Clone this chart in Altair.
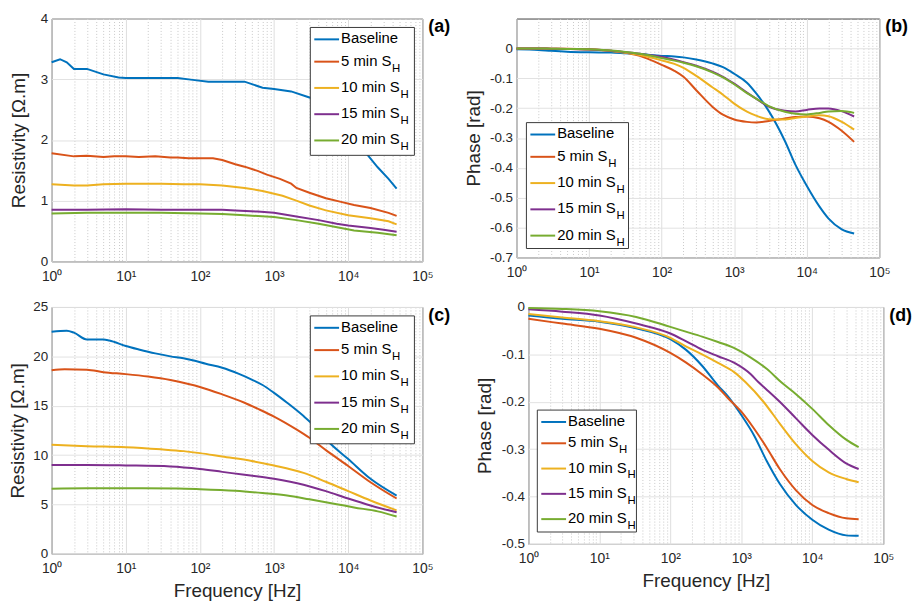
import altair as alt
import pandas as pd

SERIES = ["Baseline", "5 min S", "10 min S", "15 min S", "20 min S"]
SUBSCRIPT = ["", "H", "H", "H", "H"]
COLORS = ["#0072BD", "#D95319", "#EDB120", "#7E2F8E", "#77AC30"]

# ---------- panel (a): resistivity, (frequency Hz, value) pairs ----------
A_BASELINE = [(1, 3.28), (1.3, 3.33), (1.6, 3.28), (2, 3.17), (3, 3.17), (5, 3.08), (8, 3.03),
              (10, 3.02), (20, 3.02), (50, 3.02), (80, 2.99), (130, 2.96), (250, 2.96), (400, 2.96),
              (700, 2.86), (1000, 2.84), (1700, 2.80), (3000, 2.70), (4500, 2.58), (7000, 2.38),
              (10000, 2.15), (17000, 1.80), (25000, 1.55), (35000, 1.36), (45000, 1.20)]
A_5MIN = [(1, 1.78), (2, 1.73), (3, 1.74), (5, 1.72), (7, 1.73), (10, 1.73), (15, 1.72), (25, 1.73),
          (40, 1.71), (50, 1.71), (70, 1.70), (150, 1.70), (200, 1.67), (300, 1.60), (400, 1.56),
          (600, 1.49), (800, 1.43), (1200, 1.36), (1700, 1.28), (2000, 1.21), (3000, 1.13),
          (5000, 1.04), (8000, 0.98), (12000, 0.93), (20000, 0.88), (35000, 0.80), (45000, 0.75)]
A_10MIN = [(1, 1.27), (2, 1.25), (3, 1.25), (5, 1.27), (10, 1.28), (30, 1.28), (60, 1.27), (100, 1.27),
           (200, 1.25), (400, 1.21), (700, 1.16), (1300, 1.08), (2000, 1.00), (3000, 0.92),
           (5000, 0.84), (10000, 0.76), (20000, 0.71), (35000, 0.66), (45000, 0.61)]
A_15MIN = [(1, 0.85), (3, 0.85), (10, 0.86), (30, 0.85), (100, 0.85), (200, 0.85), (300, 0.84),
           (600, 0.82), (1000, 0.80), (2000, 0.74), (4000, 0.68), (7000, 0.62), (10000, 0.59),
           (20000, 0.55), (30000, 0.52), (45000, 0.49)]
A_20MIN = [(1, 0.79), (3, 0.80), (10, 0.80), (30, 0.80), (100, 0.79), (200, 0.78), (400, 0.76),
           (1000, 0.73), (2000, 0.68), (4000, 0.62), (8000, 0.55), (12000, 0.51), (25000, 0.47),
           (45000, 0.43)]

# ---------- panel (b): phase ----------
B_FREQ = [1, 2, 3, 5, 10, 20, 30, 50, 100, 150, 200, 300, 500, 700, 1000, 1500, 2000, 3000,
          5000, 7000, 10000, 15000, 20000, 30000, 45000]
B_BASELINE = [-0.003, -0.005, -0.008, -0.011, -0.013, -0.014, -0.016, -0.019, -0.025, -0.027,
              -0.030, -0.037, -0.050, -0.063, -0.085, -0.115, -0.150, -0.210, -0.310, -0.390,
              -0.460, -0.530, -0.570, -0.605, -0.620]
B_5MIN = [0.0, 0.0, -0.001, -0.001, -0.003, -0.008, -0.013, -0.025, -0.055, -0.075, -0.095,
          -0.140, -0.195, -0.222, -0.238, -0.246, -0.248, -0.243, -0.235, -0.230, -0.228,
          -0.234, -0.246, -0.275, -0.313]
B_10MIN = [0.0, 0.0, -0.001, -0.002, -0.004, -0.009, -0.014, -0.022, -0.040, -0.052, -0.065,
           -0.092, -0.130, -0.155, -0.185, -0.212, -0.225, -0.237, -0.238, -0.233, -0.228,
           -0.224, -0.227, -0.245, -0.272]
B_15MIN = [0.0, 0.0, -0.001, -0.002, -0.004, -0.008, -0.012, -0.018, -0.028, -0.038, -0.046,
           -0.058, -0.078, -0.095, -0.118, -0.148, -0.168, -0.195, -0.209, -0.211, -0.206,
           -0.201, -0.201, -0.210, -0.228]
B_20MIN = [0.0, 0.0, -0.001, -0.002, -0.003, -0.007, -0.011, -0.018, -0.032, -0.041, -0.048,
           -0.060, -0.080, -0.097, -0.120, -0.150, -0.168, -0.193, -0.212, -0.219, -0.221,
           -0.216, -0.211, -0.210, -0.216]

# ---------- panel (c): resistivity, (frequency Hz, value) pairs ----------
C_BASELINE = [(1, 22.5), (1.6, 22.6), (2, 22.4), (3, 21.7), (5, 21.7), (6, 21.6), (10, 21.05),
              (15, 20.7), (25, 20.3), (40, 20.0), (60, 19.8), (80, 19.6), (120, 19.25), (200, 18.85),
              (330, 18.25), (500, 17.65), (700, 17.1), (1000, 16.3), (1500, 15.3), (2500, 13.95),
              (3500, 12.95), (5500, 11.3), (10000, 9.6), (20000, 7.6), (45000, 5.9)]
C_5MIN = [(1, 18.6), (1.5, 18.7), (3, 18.65), (5, 18.4), (10, 18.2), (20, 17.95), (40, 17.6),
          (70, 17.2), (100, 16.9), (200, 16.15), (400, 15.3), (600, 14.7), (1000, 13.9),
          (2000, 12.6), (3000, 11.75), (5000, 10.5), (10000, 8.9), (20000, 7.25), (45000, 5.6)]
C_10MIN = [(1, 11.05), (3, 10.9), (10, 10.8), (30, 10.58), (60, 10.4), (100, 10.2), (200, 9.85),
           (500, 9.4), (1000, 8.95), (2500, 8.2), (5000, 7.3), (10000, 6.35), (20000, 5.4),
           (45000, 4.4)]
C_15MIN = [(1, 9.0), (3, 9.0), (10, 8.95), (40, 8.85), (100, 8.6), (200, 8.3), (400, 8.0),
           (1000, 7.6), (2500, 7.0), (5000, 6.35), (10000, 5.6), (20000, 4.9), (45000, 4.2)]
C_20MIN = [(1, 6.6), (3, 6.65), (10, 6.65), (50, 6.62), (100, 6.55), (300, 6.38), (700, 6.15),
           (1500, 5.9), (3000, 5.52), (7000, 5.03), (12000, 4.7), (25000, 4.3), (45000, 3.78)]

# ---------- panel (d): phase, (frequency Hz, value) pairs ----------
D_BASELINE = [(1, -0.018), (3, -0.025), (10, -0.031), (33, -0.045), (100, -0.068), (165, -0.090),
              (280, -0.124), (470, -0.166), (644, -0.188), (1000, -0.228), (1500, -0.270),
              (2280, -0.325), (3480, -0.373), (5900, -0.418), (10000, -0.449), (17000, -0.470),
              (30000, -0.482), (45000, -0.483)]
D_5MIN = [(1, -0.025), (3, -0.035), (10, -0.046), (33, -0.065), (100, -0.097), (165, -0.117),
          (280, -0.142), (470, -0.170), (644, -0.192), (1000, -0.221), (1500, -0.256),
          (2280, -0.297), (3480, -0.342), (5900, -0.387), (10000, -0.418), (17000, -0.435),
          (30000, -0.446), (45000, -0.448)]
D_10MIN = [(1, -0.015), (3, -0.022), (10, -0.030), (33, -0.043), (100, -0.065), (165, -0.083),
           (280, -0.100), (470, -0.118), (800, -0.138), (1150, -0.159), (2050, -0.200),
           (3480, -0.246), (5900, -0.290), (10000, -0.325), (17000, -0.349), (30000, -0.363),
           (45000, -0.370)]
D_15MIN = [(1, -0.005), (3, -0.010), (10, -0.018), (33, -0.035), (100, -0.056), (165, -0.072),
           (280, -0.090), (470, -0.104), (800, -0.118), (1360, -0.142), (1750, -0.159),
           (2300, -0.175), (3480, -0.200), (5900, -0.235), (10000, -0.270), (17000, -0.301),
           (30000, -0.330), (45000, -0.342)]
D_20MIN = [(1, -0.002), (3, -0.004), (10, -0.009), (33, -0.021), (100, -0.042), (165, -0.052),
           (280, -0.0625), (470, -0.074), (800, -0.087), (1360, -0.107), (2300, -0.131),
           (3660, -0.159), (5900, -0.184), (10000, -0.215), (17000, -0.249), (30000, -0.280),
           (45000, -0.296)]

X_TICKS = [m * 10 ** k for k in range(5) for m in range(1, 10)] + [100000]
DECADES = [1, 10, 100, 1000, 10000, 100000]
SUPERSCRIPTS = ["10\u2070", "10\u00b9", "10\u00b2", "10\u00b3", "10\u2074", "10\u2075"]

FONT = "Liberation Sans"
CSCALE = alt.Scale(domain=SERIES, range=COLORS)


def from_pairs(series_lists):
    rows = []
    for name, pairs in zip(SERIES, series_lists):
        for f, v in pairs:
            rows.append({"series": name, "f": f, "v": v})
    return pd.DataFrame(rows)


def from_grid(freq, series_lists):
    rows = []
    for name, vals in zip(SERIES, series_lists):
        for f, v in zip(freq, vals):
            rows.append({"series": name, "f": f, "v": v})
    return pd.DataFrame(rows)


DF_A = from_pairs([A_BASELINE, A_5MIN, A_10MIN, A_15MIN, A_20MIN])
DF_B = from_grid(B_FREQ, [B_BASELINE, B_5MIN, B_10MIN, B_15MIN, B_20MIN])
DF_C = from_pairs([C_BASELINE, C_5MIN, C_10MIN, C_15MIN, C_20MIN])
DF_D = from_pairs([D_BASELINE, D_5MIN, D_10MIN, D_15MIN, D_20MIN])

decade_test = "indexof([" + ",".join(str(d) for d in DECADES) + "], datum.value) >= 0"
x_label_expr = " : ".join(
    f"datum.value == {d} ? '{s}'" for d, s in zip(DECADES, SUPERSCRIPTS)) + " : ''"

X_LABEL_SIZE = 14
Y_LABEL_SIZE = 13.5
TITLE_SIZE = 19


def x_axis(title):
    kw = dict(values=X_TICKS, labelExpr=x_label_expr, grid=True,
              gridColor={"condition": {"test": decade_test, "value": "#dedede"}, "value": "#c8c8c8"},
              gridDash={"condition": {"test": decade_test, "value": []}, "value": [1, 2]},
              gridWidth=1, labelOverlap=False, labelFlush=False, labelPadding=8,
              labelFontSize=X_LABEL_SIZE, labelFont=FONT, labelColor="#262626",
              domain=False, ticks=False)
    if title:
        kw.update(title=title, titlePadding=6, titleFont=FONT, titleFontSize=TITLE_SIZE,
                  titleFontWeight="normal", titleColor="#262626")
    else:
        kw.update(title=None)
    return alt.Axis(**kw)


MINUS_EXPR = "datum.value == 0 ? '0' : (datum.value < 0 ? '-' + format(-datum.value, '.1f') : format(datum.value, '.1f'))"


def y_axis(title, values, expr, tpad):
    kw = dict(title=title, values=values, grid=True, gridColor="#e2e2e2", gridWidth=1,
              titlePadding=tpad, labelPadding=4, labelFontSize=Y_LABEL_SIZE, labelFont=FONT,
              labelColor="#262626", titleFont=FONT, titleFontSize=TITLE_SIZE,
              titleFontWeight="normal", titleColor="#262626", domain=False, ticks=False)
    if expr:
        kw["labelExpr"] = expr
    return alt.Axis(**kw)


LEG = pd.DataFrame({"series": SERIES, "sub": SUBSCRIPT, "i": list(range(5))})
ONE = pd.DataFrame({"k": [0]})


def legend_layers(bx, by, bw, bh, step):
    ly = f"{by} + (datum.i == 0 ? 12 : 8 + {step} * datum.i)"
    box = alt.Chart(ONE).mark_rect(fill="white", stroke="#3a3a3a", strokeWidth=1).encode(
        x=alt.value(bx), x2=alt.value(bx + bw), y=alt.value(by), y2=alt.value(by + bh))
    src = alt.Chart(LEG).transform_calculate(ly=ly)
    rules = src.mark_rule(strokeWidth=2).encode(
        x=alt.value(bx + 4), x2=alt.value(bx + 29),
        y=alt.Y("ly:Q", scale=None, axis=None),
        color=alt.Color("series:N", scale=CSCALE, legend=None))
    texts = src.mark_text(align="left", baseline="middle", font=FONT, fontSize=15,
                          color="#000000", dy=-1).encode(
        x=alt.value(bx + 31), y=alt.Y("ly:Q", scale=None, axis=None), text="series:N")
    sub1 = src.transform_filter("datum.i == 1").mark_text(
        align="left", baseline="middle", font=FONT, fontSize=11.5, color="#000000", dy=7).encode(
        x=alt.value(bx + 31 + 51.5), y=alt.Y("ly:Q", scale=None, axis=None), text="sub:N")
    sub2 = src.transform_filter("datum.i >= 2").mark_text(
        align="left", baseline="middle", font=FONT, fontSize=11.5, color="#000000", dy=7).encode(
        x=alt.value(bx + 31 + 60), y=alt.Y("ly:Q", scale=None, axis=None), text="sub:N")
    return [box, rules, texts, sub1, sub2]


def panel(df, w, h, ydom, yvals, yexpr, ytitle, tpad, xtitle, leg, tag, interp):
    lines = alt.Chart(df).mark_line(strokeWidth=2, interpolate=interp).encode(
        x=alt.X("f:Q", scale=alt.Scale(type="log", domain=[1, 100000], nice=False),
                axis=x_axis(xtitle)),
        y=alt.Y("v:Q", scale=alt.Scale(domain=ydom, nice=False, zero=False),
                axis=y_axis(ytitle, yvals, yexpr, tpad)),
        color=alt.Color("series:N", scale=CSCALE, legend=None))
    label = alt.Chart(ONE).mark_text(text=tag, align="left", baseline="middle", font=FONT,
                                     fontSize=18, fontWeight="bold", color="#000000").encode(
        x=alt.value(w + 6), y=alt.value(9))
    return alt.layer(lines, *legend_layers(*leg), label).properties(width=w, height=h)


pa = panel(DF_A, 374, 245, [0, 4], [0, 1, 2, 3, 4], None, "Resistivity [\u03a9.m]", 12, None,
           (261, 9, 105, 129, 26.5), "(a)", "linear")
pb = panel(DF_B, 366, 241, [-0.7, 0.1], [-0.7, -0.6, -0.5, -0.4, -0.3, -0.2, -0.1, 0],
           MINUS_EXPR, "Phase [rad]", 6, None, (10, 105, 103, 127, 26.5), "(b)", "monotone")
pc = panel(DF_C, 374, 249, [0, 25], [0, 5, 10, 15, 20, 25], None, "Resistivity [\u03a9.m]", 5,
           "Frequency [Hz]", (261, 9, 105, 129, 26.5), "(c)", "monotone")
pd_ = panel(DF_D, 358, 239, [-0.5, 0], [-0.5, -0.4, -0.3, -0.2, -0.1, 0], MINUS_EXPR,
            "Phase [rad]", 7, "Frequency [Hz]", (9, 104, 100, 123, 25.5), "(d)", "monotone")

row1 = alt.hconcat(pa, pb, spacing=95, bounds="flush")
row2 = alt.hconcat(pc, pd_, spacing=107, bounds="flush")

chart = alt.vconcat(row1, row2, spacing=15).properties(
    padding={"left": 0, "top": 0, "right": 0, "bottom": 0}
).configure(background="white").configure_view(stroke="#404040", strokeWidth=1)

chart.save("out.html", embed_options={"renderer": "svg", "actions": False})
